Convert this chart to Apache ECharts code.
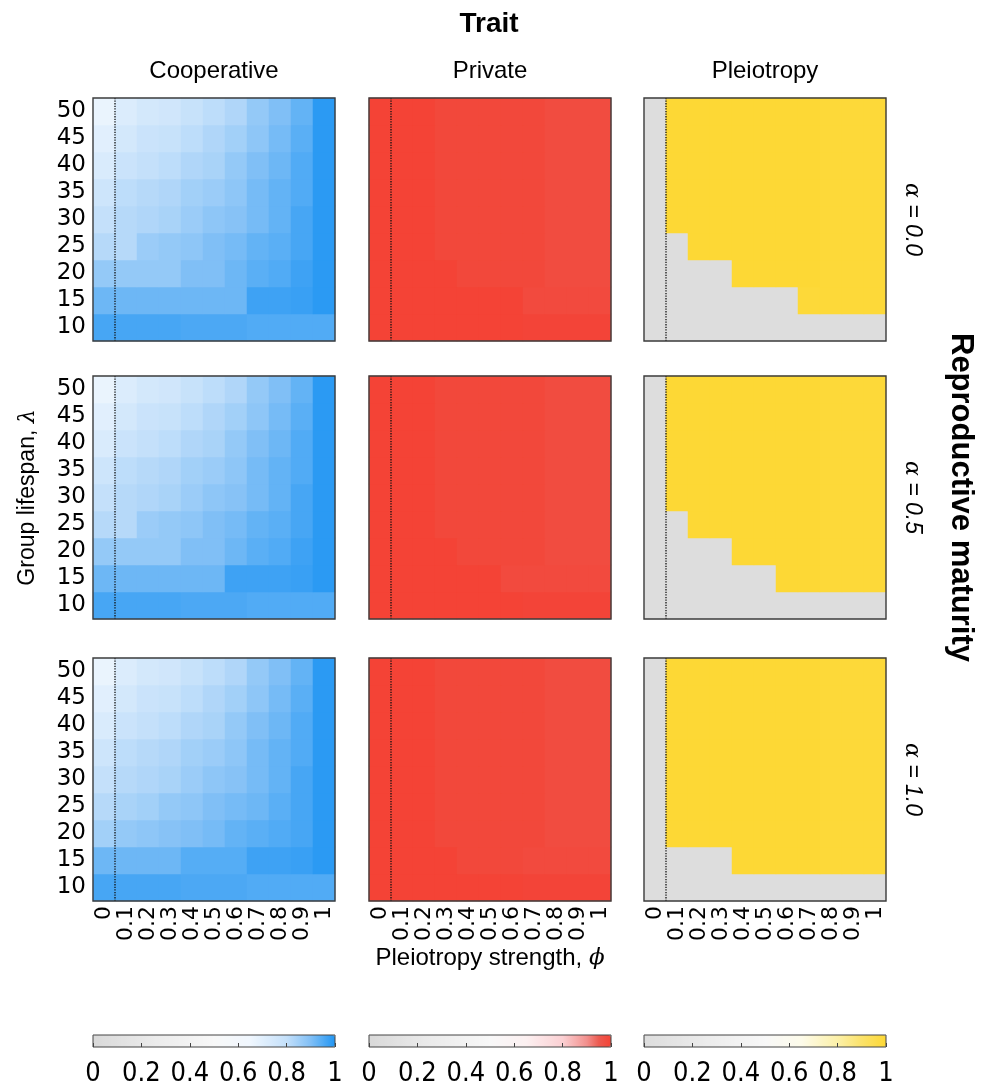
<!DOCTYPE html>
<html>
<head>
<meta charset="utf-8">
<script src="https://cdn.jsdelivr.net/npm/echarts@6/dist/echarts.min.js"></script>
<style>
  html, body { margin: 0; padding: 0; background: #fff; }
  #main { width: 988px; height: 1088px; }
</style>
</head>
<body>
<div id="main"></div>
<script>
// ---- axes ----
const phiLabels = ['0', '0.1', '0.2', '0.3', '0.4', '0.5', '0.6', '0.7', '0.8', '0.9', '1'];
const lambdaLabels = ['10', '15', '20', '25', '30', '35', '40', '45', '50'];
const traitNames = ['Cooperative', 'Private', 'Pleiotropy'];
const alphaNames = ['0.0', '0.5', '1.0'];
const thresholdPhi = 0.05; // dotted guide line (between phi = 0 and phi = 0.1 cells)

// ---- values, one row per lambda (10 -> 50), one column per phi (0 -> 1) ----
const coopA00 = [
  [0.96, 0.96, 0.96, 0.96, 0.955, 0.955, 0.955, 0.95, 0.95, 0.95, 0.95],
  [0.92, 0.92, 0.92, 0.92, 0.92, 0.92, 0.92, 0.97, 0.97, 0.975, 0.99],
  [0.87, 0.87, 0.87, 0.87, 0.90, 0.90, 0.92, 0.94, 0.95, 0.97, 0.99],
  [0.82, 0.82, 0.86, 0.87, 0.88, 0.90, 0.91, 0.93, 0.94, 0.96, 0.99],
  [0.80, 0.82, 0.83, 0.84, 0.86, 0.88, 0.89, 0.91, 0.93, 0.96, 0.99],
  [0.77, 0.81, 0.82, 0.83, 0.85, 0.86, 0.88, 0.91, 0.93, 0.95, 0.99],
  [0.73, 0.78, 0.80, 0.81, 0.83, 0.84, 0.87, 0.90, 0.92, 0.95, 0.99],
  [0.70, 0.75, 0.78, 0.79, 0.81, 0.83, 0.85, 0.88, 0.91, 0.94, 0.99],
  [0.67, 0.72, 0.75, 0.76, 0.79, 0.81, 0.83, 0.87, 0.90, 0.93, 0.99]
];
const coopA05 = [
  [0.96, 0.96, 0.96, 0.96, 0.955, 0.955, 0.955, 0.95, 0.95, 0.95, 0.95],
  [0.92, 0.92, 0.92, 0.92, 0.92, 0.92, 0.97, 0.97, 0.97, 0.975, 0.99],
  [0.87, 0.87, 0.87, 0.87, 0.90, 0.90, 0.92, 0.94, 0.95, 0.97, 0.99],
  [0.82, 0.82, 0.86, 0.87, 0.88, 0.90, 0.91, 0.93, 0.94, 0.96, 0.99],
  [0.80, 0.82, 0.83, 0.84, 0.86, 0.88, 0.89, 0.91, 0.93, 0.96, 0.99],
  [0.77, 0.81, 0.82, 0.83, 0.85, 0.86, 0.88, 0.91, 0.93, 0.95, 0.99],
  [0.73, 0.78, 0.80, 0.81, 0.83, 0.84, 0.87, 0.90, 0.92, 0.95, 0.99],
  [0.70, 0.75, 0.78, 0.79, 0.81, 0.83, 0.85, 0.88, 0.91, 0.94, 0.99],
  [0.67, 0.72, 0.75, 0.76, 0.79, 0.81, 0.83, 0.87, 0.90, 0.93, 0.99]
];
const coopA10 = [
  [0.96, 0.96, 0.96, 0.96, 0.955, 0.955, 0.955, 0.95, 0.95, 0.95, 0.95],
  [0.92, 0.92, 0.92, 0.92, 0.945, 0.945, 0.945, 0.97, 0.97, 0.975, 0.99],
  [0.85, 0.87, 0.88, 0.89, 0.90, 0.91, 0.93, 0.94, 0.95, 0.96, 0.99],
  [0.82, 0.84, 0.85, 0.87, 0.88, 0.90, 0.91, 0.92, 0.94, 0.96, 0.99],
  [0.80, 0.82, 0.83, 0.84, 0.86, 0.88, 0.89, 0.91, 0.93, 0.96, 0.99],
  [0.77, 0.81, 0.82, 0.83, 0.85, 0.86, 0.88, 0.91, 0.93, 0.95, 0.99],
  [0.73, 0.78, 0.80, 0.81, 0.83, 0.84, 0.87, 0.90, 0.92, 0.95, 0.99],
  [0.70, 0.75, 0.78, 0.79, 0.81, 0.83, 0.85, 0.88, 0.91, 0.94, 0.99],
  [0.67, 0.72, 0.75, 0.76, 0.79, 0.81, 0.83, 0.87, 0.90, 0.93, 0.99]
];

const privA00 = [
  [1, 1, 1, 1, 1, 1, 1, 0.997, 0.997, 0.997, 0.997],
  [1, 1, 1, 1, 1, 1, 1, 0.985, 0.985, 0.985, 0.985],
  [1, 1, 1, 1, 0.99, 0.99, 0.99, 0.99, 0.98, 0.98, 0.98],
  [1, 1, 1, 0.99, 0.99, 0.99, 0.99, 0.99, 0.98, 0.98, 0.98],
  [1, 1, 1, 0.99, 0.99, 0.99, 0.99, 0.99, 0.98, 0.98, 0.98],
  [1, 1, 1, 0.99, 0.99, 0.99, 0.99, 0.99, 0.98, 0.98, 0.98],
  [1, 1, 1, 0.99, 0.99, 0.99, 0.99, 0.99, 0.98, 0.98, 0.98],
  [1, 1, 1, 0.99, 0.99, 0.99, 0.99, 0.99, 0.98, 0.98, 0.98],
  [1, 1, 1, 0.99, 0.99, 0.99, 0.99, 0.99, 0.98, 0.98, 0.98]
];
const privA05 = [
  [1, 1, 1, 1, 1, 1, 1, 0.997, 0.997, 0.997, 0.997],
  [1, 1, 1, 1, 1, 1, 0.985, 0.985, 0.985, 0.985, 0.985],
  [1, 1, 1, 1, 0.99, 0.99, 0.99, 0.99, 0.98, 0.98, 0.98],
  [1, 1, 1, 0.99, 0.99, 0.99, 0.99, 0.99, 0.98, 0.98, 0.98],
  [1, 1, 1, 0.99, 0.99, 0.99, 0.99, 0.99, 0.98, 0.98, 0.98],
  [1, 1, 1, 0.99, 0.99, 0.99, 0.99, 0.99, 0.98, 0.98, 0.98],
  [1, 1, 1, 0.99, 0.99, 0.99, 0.99, 0.99, 0.98, 0.98, 0.98],
  [1, 1, 1, 0.99, 0.99, 0.99, 0.99, 0.99, 0.98, 0.98, 0.98],
  [1, 1, 1, 0.99, 0.99, 0.99, 0.99, 0.99, 0.98, 0.98, 0.98]
];
const privA10 = [
  [1, 1, 1, 1, 1, 1, 1, 0.997, 0.997, 0.997, 0.997],
  [1, 1, 1, 1, 0.99, 0.99, 0.99, 0.985, 0.985, 0.985, 0.985],
  [1, 1, 1, 0.99, 0.99, 0.99, 0.99, 0.99, 0.98, 0.98, 0.98],
  [1, 1, 1, 0.99, 0.99, 0.99, 0.99, 0.99, 0.98, 0.98, 0.98],
  [1, 1, 1, 0.99, 0.99, 0.99, 0.99, 0.99, 0.98, 0.98, 0.98],
  [1, 1, 1, 0.99, 0.99, 0.99, 0.99, 0.99, 0.98, 0.98, 0.98],
  [1, 1, 1, 0.99, 0.99, 0.99, 0.99, 0.99, 0.98, 0.98, 0.98],
  [1, 1, 1, 0.99, 0.99, 0.99, 0.99, 0.99, 0.98, 0.98, 0.98],
  [1, 1, 1, 0.99, 0.99, 0.99, 0.99, 0.99, 0.98, 0.98, 0.98]
];

const pleioA00 = [
  [0, 0, 0, 0, 0, 0, 0, 0, 0, 0, 0],
  [0, 0, 0, 0, 0, 0, 0, 0.993, 0.993, 0.993, 0.993],
  [0, 0, 0, 0, 1, 1, 1, 1, 0.993, 0.993, 0.993],
  [0, 0, 1, 1, 1, 1, 1, 1, 0.993, 0.993, 0.993],
  [0, 1, 1, 1, 1, 1, 1, 1, 0.993, 0.993, 0.993],
  [0, 1, 1, 1, 1, 1, 1, 1, 0.993, 0.993, 0.993],
  [0, 1, 1, 1, 1, 1, 1, 1, 0.993, 0.993, 0.993],
  [0, 1, 1, 1, 1, 1, 1, 1, 0.993, 0.993, 0.993],
  [0, 1, 1, 1, 1, 1, 1, 1, 0.993, 0.993, 0.993]
];
const pleioA05 = [
  [0, 0, 0, 0, 0, 0, 0, 0, 0, 0, 0],
  [0, 0, 0, 0, 0, 0, 1, 1, 0.993, 0.993, 0.993],
  [0, 0, 0, 0, 1, 1, 1, 1, 0.993, 0.993, 0.993],
  [0, 0, 1, 1, 1, 1, 1, 1, 0.993, 0.993, 0.993],
  [0, 1, 1, 1, 1, 1, 1, 1, 0.993, 0.993, 0.993],
  [0, 1, 1, 1, 1, 1, 1, 1, 0.993, 0.993, 0.993],
  [0, 1, 1, 1, 1, 1, 1, 1, 0.993, 0.993, 0.993],
  [0, 1, 1, 1, 1, 1, 1, 1, 0.993, 0.993, 0.993],
  [0, 1, 1, 1, 1, 1, 1, 1, 0.993, 0.993, 0.993]
];
const pleioA10 = [
  [0, 0, 0, 0, 0, 0, 0, 0, 0, 0, 0],
  [0, 0, 0, 0, 1, 1, 1, 1, 0.993, 0.993, 0.993],
  [0, 1, 1, 1, 1, 1, 1, 1, 0.993, 0.993, 0.993],
  [0, 1, 1, 1, 1, 1, 1, 1, 0.993, 0.993, 0.993],
  [0, 1, 1, 1, 1, 1, 1, 1, 0.993, 0.993, 0.993],
  [0, 1, 1, 1, 1, 1, 1, 1, 0.993, 0.993, 0.993],
  [0, 1, 1, 1, 1, 1, 1, 1, 0.993, 0.993, 0.993],
  [0, 1, 1, 1, 1, 1, 1, 1, 0.993, 0.993, 0.993],
  [0, 1, 1, 1, 1, 1, 1, 1, 0.993, 0.993, 0.993]
];

// panels[row][col]
const panels = [
  [coopA00, privA00, pleioA00],
  [coopA05, privA05, pleioA05],
  [coopA10, privA10, pleioA10]
];

// ---- colour maps (gray -> white -> colour) ----
const blueStops = [[0, '#d9d9d9'], [0.25, '#ebebeb'], [0.5, '#f8f8f8'], [0.65, '#f0f7fe'], [0.8, '#c4e0fa'], [0.9, '#80bff6'], [1, '#2196f3']];
const redStops = [[0, '#d9d9d9'], [0.25, '#ebebeb'], [0.5, '#f8f8f8'], [0.65, '#fcf0f1'], [0.8, '#fbd0d3'], [0.9, '#f2908d'], [0.95, '#ec5a50'], [1, '#f44336']];
const yellowStops = [[0, '#dddddd'], [0.25, '#ebebeb'], [0.5, '#f8f8f8'], [0.65, '#fdfbea'], [0.8, '#fcf0a8'], [0.9, '#fbe26a'], [1, '#fdd835']];

function hexRgb(h) {
  return [parseInt(h.slice(1, 3), 16), parseInt(h.slice(3, 5), 16), parseInt(h.slice(5, 7), 16)];
}
function ramp(stops, n) {
  const out = [];
  for (let i = 0; i < n; i++) {
    const t = i / (n - 1);
    let k = 0;
    while (k < stops.length - 2 && t > stops[k + 1][0]) k++;
    const a = stops[k], b = stops[k + 1];
    const f = (t - a[0]) / (b[0] - a[0]);
    const ca = hexRgb(a[1]), cb = hexRgb(b[1]);
    const c = ca.map((v, j) => Math.round(v + (cb[j] - v) * f));
    out.push('rgb(' + c.join(',') + ')');
  }
  return out;
}
const colorRamps = [ramp(blueStops, 201), ramp(redStops, 201), ramp(yellowStops, 201)];

// ---- layout (integer cell sizes: 22 x 27 px) ----
const colLeft = [93, 369, 644];
const rowTop = [98, 376, 658];
const panelW = 242, panelH = 243;
const barTop = 1035, barHeight = 12;
const FONT = 'Liberation Sans';
const NUMFONT = 'DejaVu Sans';

const chart = echarts.init(document.getElementById('main'));

const grid = [], xAxis = [], yAxis = [], series = [], visualMap = [];

for (let r = 0; r < 3; r++) {
  for (let c = 0; c < 3; c++) {
    const k = r * 3 + c;
    grid.push({
      left: colLeft[c], top: rowTop[r], width: panelW, height: panelH,
      show: true, borderColor: '#3c3c3c', borderWidth: 1.4, backgroundColor: 'transparent',
      z: 10, outerBoundsMode: 'none', containLabel: false
    });
    xAxis.push({
      type: 'category', gridIndex: k, data: phiLabels,
      axisLine: { show: false }, axisTick: { show: false }, splitLine: { show: false },
      axisLabel: {
        show: r === 2, interval: 0, rotate: 90, margin: 5,
        fontFamily: NUMFONT, fontSize: 22, color: '#000'
      }
    });
    xAxis.push({ type: 'value', gridIndex: k, min: -0.05, max: 1.05, show: false });
    yAxis.push({
      type: 'category', gridIndex: k, data: lambdaLabels,
      axisLine: { show: false }, axisTick: { show: false }, splitLine: { show: false },
      axisLabel: {
        show: c === 0, interval: 0, margin: 7,
        fontFamily: NUMFONT, fontSize: 23, color: '#000'
      }
    });
    yAxis.push({ type: 'value', gridIndex: k, min: 0, max: 1, show: false });
  }
}

// heatmaps first (series index = r*3 + c)
for (let r = 0; r < 3; r++) {
  for (let c = 0; c < 3; c++) {
    const k = r * 3 + c;
    const rows = panels[r][c];
    const data = [];
    rows.forEach((row, yi) => row.forEach((v, xi) => data.push([xi, yi, v])));
    series.push({
      type: 'heatmap', name: traitNames[c] + ' ' + alphaNames[r],
      xAxisIndex: 2 * k, yAxisIndex: 2 * k, data: data,
      itemStyle: { borderWidth: 0, opacity: 1 }, emphasis: { disabled: true }, silent: true
    });
  }
}
// dotted guide lines
for (let k = 0; k < 9; k++) {
  series.push({
    type: 'line', xAxisIndex: 2 * k + 1, yAxisIndex: 2 * k + 1,
    data: [[thresholdPhi, 0], [thresholdPhi, 1]],
    showSymbol: false, symbol: 'none', silent: true, z: 5,
    lineStyle: { type: 'dotted', width: 1.3, color: '#111' }
  });
}

// colour bars
for (let c = 0; c < 3; c++) {
  visualMap.push({
    type: 'continuous', min: 0, max: 1, orient: 'horizontal',
    left: colLeft[c], top: barTop, itemWidth: barHeight, itemHeight: panelW,
    padding: 0, calculable: false, hoverLink: false,
    seriesIndex: [c, 3 + c, 6 + c],
    inRange: { color: colorRamps[c] }
  });
  const gi = grid.length;
  grid.push({
    left: colLeft[c], top: barTop, width: panelW, height: barHeight,
    show: true, borderColor: '#444', borderWidth: 1, backgroundColor: 'transparent',
    z: 10, outerBoundsMode: 'none', containLabel: false
  });
  xAxis.push({
    type: 'value', gridIndex: gi, min: 0, max: 1, interval: 0.2, z: 12,
    axisLine: { show: false }, splitLine: { show: false },
    axisTick: { show: true, inside: true, length: 4, lineStyle: { color: '#444' } },
    axisLabel: { margin: 13, fontFamily: 'Liberation Sans Narrow, DejaVu Sans Condensed, Liberation Sans', fontSize: 27, color: '#000' }
  });
  yAxis.push({ type: 'value', gridIndex: gi, min: 0, max: 1, show: false });
}

// ---- texts ----
const graphic = [];
function txt(x, y, text, opts) {
  graphic.push(Object.assign({
    type: 'text', x: x, y: y, silent: true,
    style: Object.assign({
      text: text, fill: '#000', align: 'center', verticalAlign: 'middle',
      textAlign: 'center', textVerticalAlign: 'middle',
      fontFamily: FONT, fontSize: 23
    }, opts.style || {})
  }, opts.el || {}));
}
txt(489, 24, 'Trait', { style: { fontWeight: 'bold', fontSize: 28 } });
for (let c = 0; c < 3; c++) {
  txt(colLeft[c] + panelW / 2, 71, traitNames[c], { style: { fontSize: 24 } });
}
txt(490, 958, 'Pleiotropy strength, {m|ϕ}', {
  style: { fontSize: 24, rich: { m: { fontFamily: 'DejaVu Serif', fontStyle: 'italic', fontSize: 23 } } }
});
txt(28, rowTop[1] + panelH / 2, 'Group lifespan, {m|λ}', {
  el: { rotation: Math.PI / 2 },
  style: { fontSize: 23, rich: { m: { fontFamily: 'DejaVu Serif', fontStyle: 'italic', fontSize: 22 } } }
});
for (let r = 0; r < 3; r++) {
  txt(912, rowTop[r] + panelH / 2, '{m|α} = ' + alphaNames[r], {
    el: { rotation: -Math.PI / 2 },
    style: { fontSize: 23, fontStyle: 'italic', rich: { m: { fontFamily: 'DejaVu Serif', fontStyle: 'italic', fontSize: 22 } } }
  });
}
txt(961, rowTop[1] + panelH / 2, 'Reproductive maturity', {
  el: { rotation: -Math.PI / 2 },
  style: { fontWeight: 'bold', fontSize: 31 }
});

const option = {
  backgroundColor: '#fff',
  animation: false,
  grid: grid,
  xAxis: xAxis,
  yAxis: yAxis,
  visualMap: visualMap,
  series: series,
  graphic: graphic
};
chart.setOption(option);
</script>
</body>
</html>
